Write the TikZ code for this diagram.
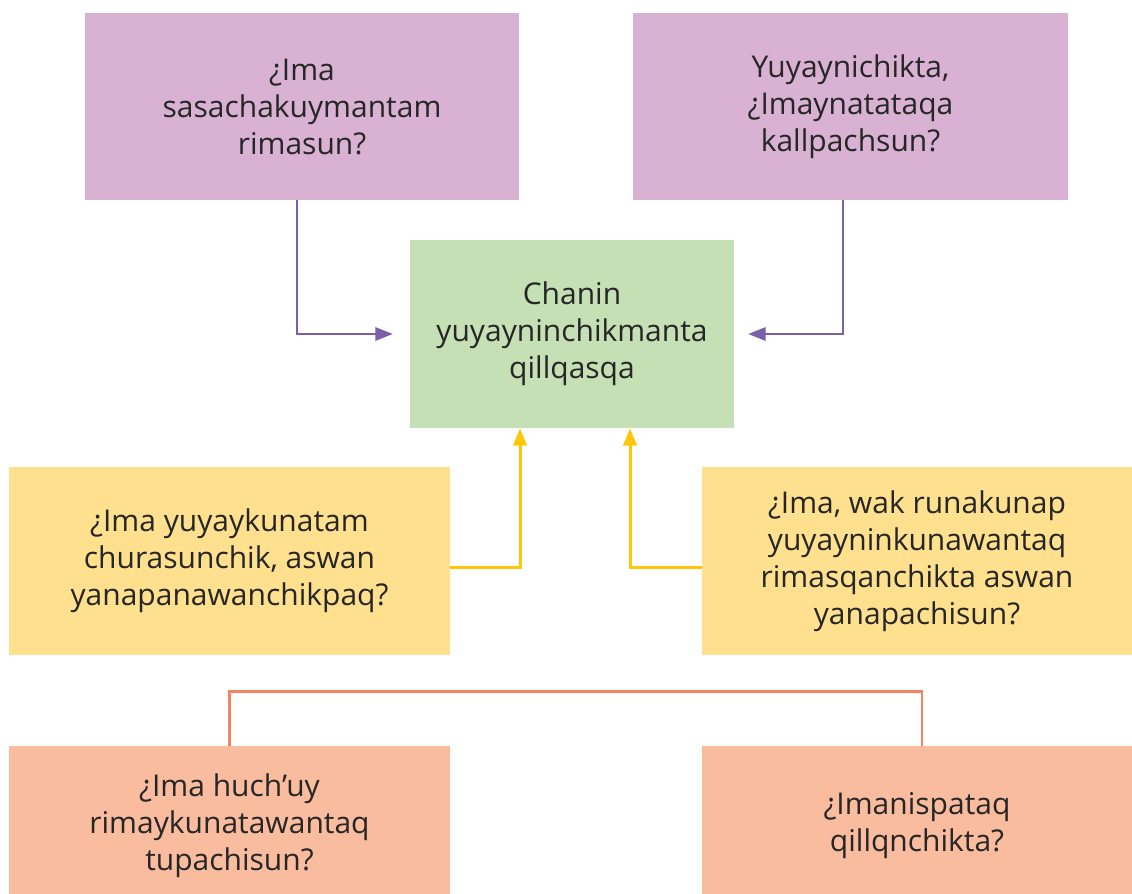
\documentclass[tikz,border=0pt]{standalone}
\usepackage{fontspec}
\setmainfont{Open Sans}
\usetikzlibrary{arrows.meta}
\definecolor{boxpurple}{HTML}{D8B1D3}
\definecolor{boxgreen}{HTML}{C5E0B4}
\definecolor{boxyellow}{HTML}{FEE08F}
\definecolor{boxsalmon}{HTML}{F9BC9E}
\definecolor{linepurple}{HTML}{7A60A8}
\definecolor{lineyellow}{HTML}{FFC709}
\definecolor{linesalmon}{HTML}{F4845F}
\definecolor{textgray}{HTML}{262626}
\begin{document}
\begin{tikzpicture}[x=0.75pt,y=-0.75pt,
	card/.style={inner sep=0pt,align=center,text=textgray,font=\fontsize{22.5}{27.75}\selectfont},
	ask/.style={draw=linepurple,line width=1.5pt,-{Triangle[length=13pt,width=10pt]}},
	help/.style={draw=lineyellow,line width=2.25pt,-{Triangle[length=13pt,width=10pt]}},
	link/.style={draw=linesalmon,line width=2pt}]
	\useasboundingbox (0,0) rectangle (1132,893);
	\node[card,fill=boxpurple,minimum width=325.5pt,minimum height=140.25pt] (q1) at (302,106.5) {¿Ima\\sasachakuymantam\\rimasun?};
	\node[card,fill=boxpurple,minimum width=326.25pt,minimum height=140.25pt] (q2) at (850.5,106.5) {Yuyaynichikta,\\¿Imaynatataqa\\kallpachsun?};
	\node[card,fill=boxgreen,minimum width=243pt,minimum height=141pt] (main) at (572,334) {Chanin\\yuyayninchikmanta\\qillqasqa};
	\node[card,fill=boxyellow,minimum width=330.75pt,minimum height=141pt] (y1) at (229.5,561) {¿Ima yuyaykunatam\\churasunchik, aswan\\yanapanawanchikpaq?};
	\node[card,fill=boxyellow,minimum width=322.5pt,minimum height=141pt] (y2) at (917,561) {¿Ima, wak runakunap\\yuyayninkunawantaq\\rimasqanchikta aswan\\yanapachisun?};
	\node[card,fill=boxsalmon,minimum width=330.75pt,minimum height=120pt] (s1) at (229.5,826) {¿Ima huch’uy\\rimaykunatawantaq\\tupachisun?};
	\node[card,fill=boxsalmon,minimum width=322.5pt,minimum height=120pt] (s2) at (917,826) {¿Imanispataq\\qillqnchikta?};
	\draw[ask] ([xshift=-3.75pt]q1.south) |- ([xshift=-12.75pt]main.west);
	\draw[ask] ([xshift=-5.625pt]q2.south) |- ([xshift=10.5pt]main.east);
	\draw[help] ([yshift=-4.5pt]y1.east) -| ([xshift=-39pt]main.south);
	\draw[help] ([yshift=-4.5pt]y2.west) -| ([xshift=43.5pt]main.south);
	\draw[link] (s1.north) -- ++(0,40.5pt) -| ([xshift=3.75pt]s2.north);
\end{tikzpicture}
\end{document}
